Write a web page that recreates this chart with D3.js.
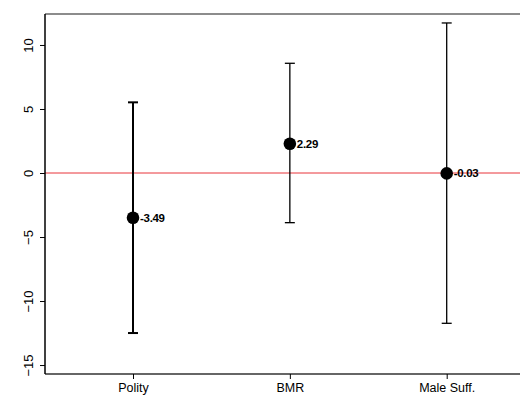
<!DOCTYPE html>
<html>
<head>
<meta charset="utf-8">
<script src="https://cdn.jsdelivr.net/npm/d3@7"></script>
<style>
  body { margin: 0; background: #fff; overflow: hidden; }
  svg { display: block; }
  text { font-family: "Liberation Sans", Arial, sans-serif; }
</style>
</head>
<body>
<div id="chart-area"></div>
<script>
// Data
let categories = ["Polity", "BMR", "Male Suff."];
let estimates = [-3.49, 2.29, -0.03];
let lower = [-12.5, -3.88, -11.74];
let upper = [5.52, 8.57, 11.72];
let labels = ["-3.49", "2.29", "-0.03"];
let yTicks = [-15, -10, -5, 0, 5, 10];

let margin = {top: 14, right: -1, bottom: 24, left: 45};
let width = 520 - margin.left - margin.right;
let height = 398 - margin.top - margin.bottom;

let svg = d3.select("#chart-area")
	.append("svg")
	.attr("width", 520)
	.attr("height", 398)
	.append("g")
	.attr("transform", "translate(" + margin.left + "," + margin.top + ")");

let data = categories.map(function(c, i) {
	return {name: c, est: estimates[i], lo: lower[i], hi: upper[i], label: labels[i]};
});

/** Scales */
let xScale = d3.scalePoint()
	.domain(categories)
	.range([88, 401.7]);

let yScale = d3.scaleLinear()
	.domain([-15.70, 12.42])
	.range([height, 0]);

// frame
svg.append("line")
	.attr("x1", 0).attr("x2", width)
	.attr("y1", 0).attr("y2", 0)
	.attr("stroke", "#666").attr("stroke-width", 1.5);

// reference line at zero
svg.append("line")
	.attr("x1", 0).attr("x2", width)
	.attr("y1", yScale(0)).attr("y2", yScale(0))
	.attr("stroke", "#e8353a").attr("stroke-width", 1);

/** Axes */
let xAxis = d3.axisBottom(xScale).tickSize(5).tickPadding(4);
let gx = svg.append("g")
	.attr("transform", "translate(0," + height + ")")
	.call(xAxis);
gx.select(".domain").attr("stroke", "#333").attr("stroke-width", 1.5).attr("d", "M0,0H" + width);
gx.selectAll("text").attr("font-size", "12.5px").attr("fill", "#000");

let yAxis = d3.axisLeft(yScale).tickValues(yTicks).tickSize(5).tickPadding(4);
let gy = svg.append("g").call(yAxis);
gy.select(".domain").attr("stroke", "#000").attr("stroke-width", 1.5).attr("d", "M0,0V" + height);
gy.selectAll(".tick text")
	.attr("font-size", "13px")
	.attr("fill", "#000")
	.attr("text-anchor", "middle")
	.attr("dy", "0")
	.attr("transform", "translate(-12,0) rotate(-90)")
	.attr("x", 0)
	.attr("y", 0);

/** Error bars */
let bars = svg.selectAll(".bar")
	.data(data)
	.enter()
	.append("g")
	.attr("class", "bar");

bars.append("line")
	.attr("x1", function(d) { return xScale(d.name); })
	.attr("x2", function(d) { return xScale(d.name); })
	.attr("y1", function(d) { return yScale(d.lo); })
	.attr("y2", function(d) { return yScale(d.hi); })
	.attr("stroke", "#000")
	.attr("stroke-width", function(d, i) { return i === 0 ? 2 : 1.3; });

bars.selectAll(".cap")
	.data(function(d, i) { return [{x: d.name, v: d.lo, i: i}, {x: d.name, v: d.hi, i: i}]; })
	.enter()
	.append("line")
	.attr("x1", function(d) { return xScale(d.x) - 5; })
	.attr("x2", function(d) { return xScale(d.x) + 5; })
	.attr("y1", function(d) { return yScale(d.v); })
	.attr("y2", function(d) { return yScale(d.v); })
	.attr("stroke", "#000")
	.attr("stroke-width", function(d) { return d.i === 0 ? 2 : 1.3; });

bars.append("circle")
	.attr("cx", function(d) { return xScale(d.name); })
	.attr("cy", function(d) { return yScale(d.est); })
	.attr("r", 6.3)
	.attr("fill", "#000");

bars.append("text")
	.attr("x", function(d) { return xScale(d.name) + 7; })
	.attr("y", function(d) { return yScale(d.est); })
	.attr("dy", "0.35em")
	.attr("font-size", "11.5px")
	.attr("font-weight", "bold")
	.attr("letter-spacing", "-0.3px")
	.text(function(d) { return d.label; });
</script>
</body>
</html>
